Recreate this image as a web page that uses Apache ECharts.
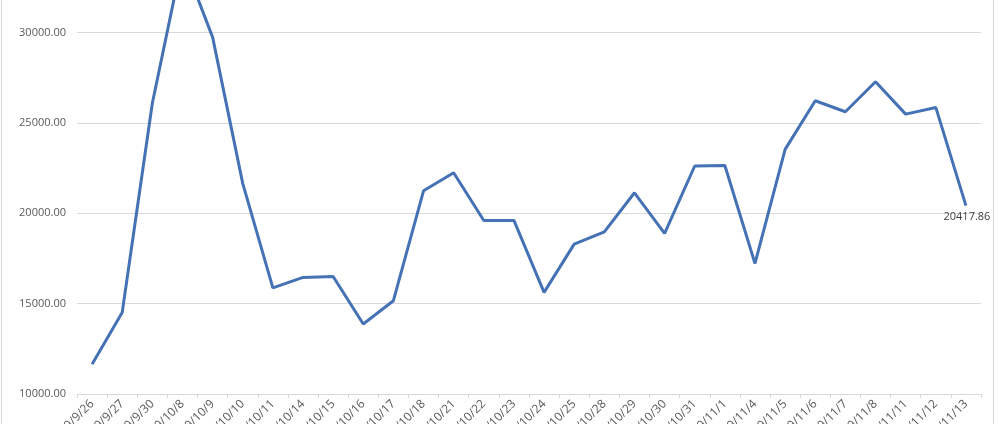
<!DOCTYPE html>
<html>
<head>
<meta charset="utf-8">
<script src="https://cdn.jsdelivr.net/npm/echarts@6/dist/echarts.min.js"></script>
<style>
html,body{margin:0;padding:0;background:#fff;overflow:hidden;width:998px;height:424px;position:relative;}
#chart{width:998px;height:552px;position:absolute;left:0;top:-68px;}
#frame{position:absolute;left:1px;top:-5px;width:991px;height:440px;border:1px solid #d9d9d9;pointer-events:none;}
</style>
</head>
<body>
<div id="chart"></div>
<div id="frame"></div>
<script>
const categories = ['2019/9/26','2019/9/27','2019/9/30','2019/10/8','2019/10/9','2019/10/10','2019/10/11','2019/10/14','2019/10/15','2019/10/16','2019/10/17','2019/10/18','2019/10/21','2019/10/22','2019/10/23','2019/10/24','2019/10/25','2019/10/28','2019/10/29','2019/10/30','2019/10/31','2019/11/1','2019/11/4','2019/11/5','2019/11/6','2019/11/7','2019/11/8','2019/11/11','2019/11/12','2019/11/13'];
const values = [11640,14510,26080,34080,29740,21650,15870,16450,16500,13870,15160,21240,22240,19600,19600,15620,18290,18970,21130,18880,22610,22640,17220,23530,26220,25610,27270,25480,25850,20417.86];
const yTicks = {min:10000, max:35000, interval:5000};

const chart = echarts.init(document.getElementById('chart'));
const font = 'Open Sans';
const lastIdx = values.length - 1;
chart.setOption({
  animation:false,
  backgroundColor:'transparent',
  grid:{left:77, right:17, top:10, bottom:90, containLabel:false, outerBoundsMode:'none'},
  xAxis:{
    type:'category', data:categories, boundaryGap:true,
    axisLine:{show:true, lineStyle:{color:'#d9d9d9', width:1}},
    axisTick:{show:true, length:4, alignWithLabel:false, lineStyle:{color:'#d9d9d9'}},
    axisLabel:{rotate:45, margin:8, interval:0, color:'#595959', fontSize:12, fontFamily:font}
  },
  yAxis:{
    type:'value', min:yTicks.min, max:yTicks.max, interval:yTicks.interval,
    axisLine:{show:false}, axisTick:{show:false},
    splitLine:{lineStyle:{color:'#d9d9d9', width:1}},
    axisLabel:{margin:11, color:'#595959', fontSize:11, fontFamily:font,
      formatter:v=>v.toFixed(2)}
  },
  series:[{
    type:'line',
    data:values.map((v,i)=> i===lastIdx ? {value:v, label:{show:true}} : v),
    symbol:'circle', symbolSize:0.01, showSymbol:true,
    lineStyle:{color:'#4572b5', width:3},
    itemStyle:{color:'#4572b5'},
    label:{show:false, position:'bottom', distance:6, offset:[1,0], color:'#404040', fontSize:11, fontFamily:font,
      formatter:p=>Number(p.value).toFixed(2)}
  }]
});
</script>
</body>
</html>
